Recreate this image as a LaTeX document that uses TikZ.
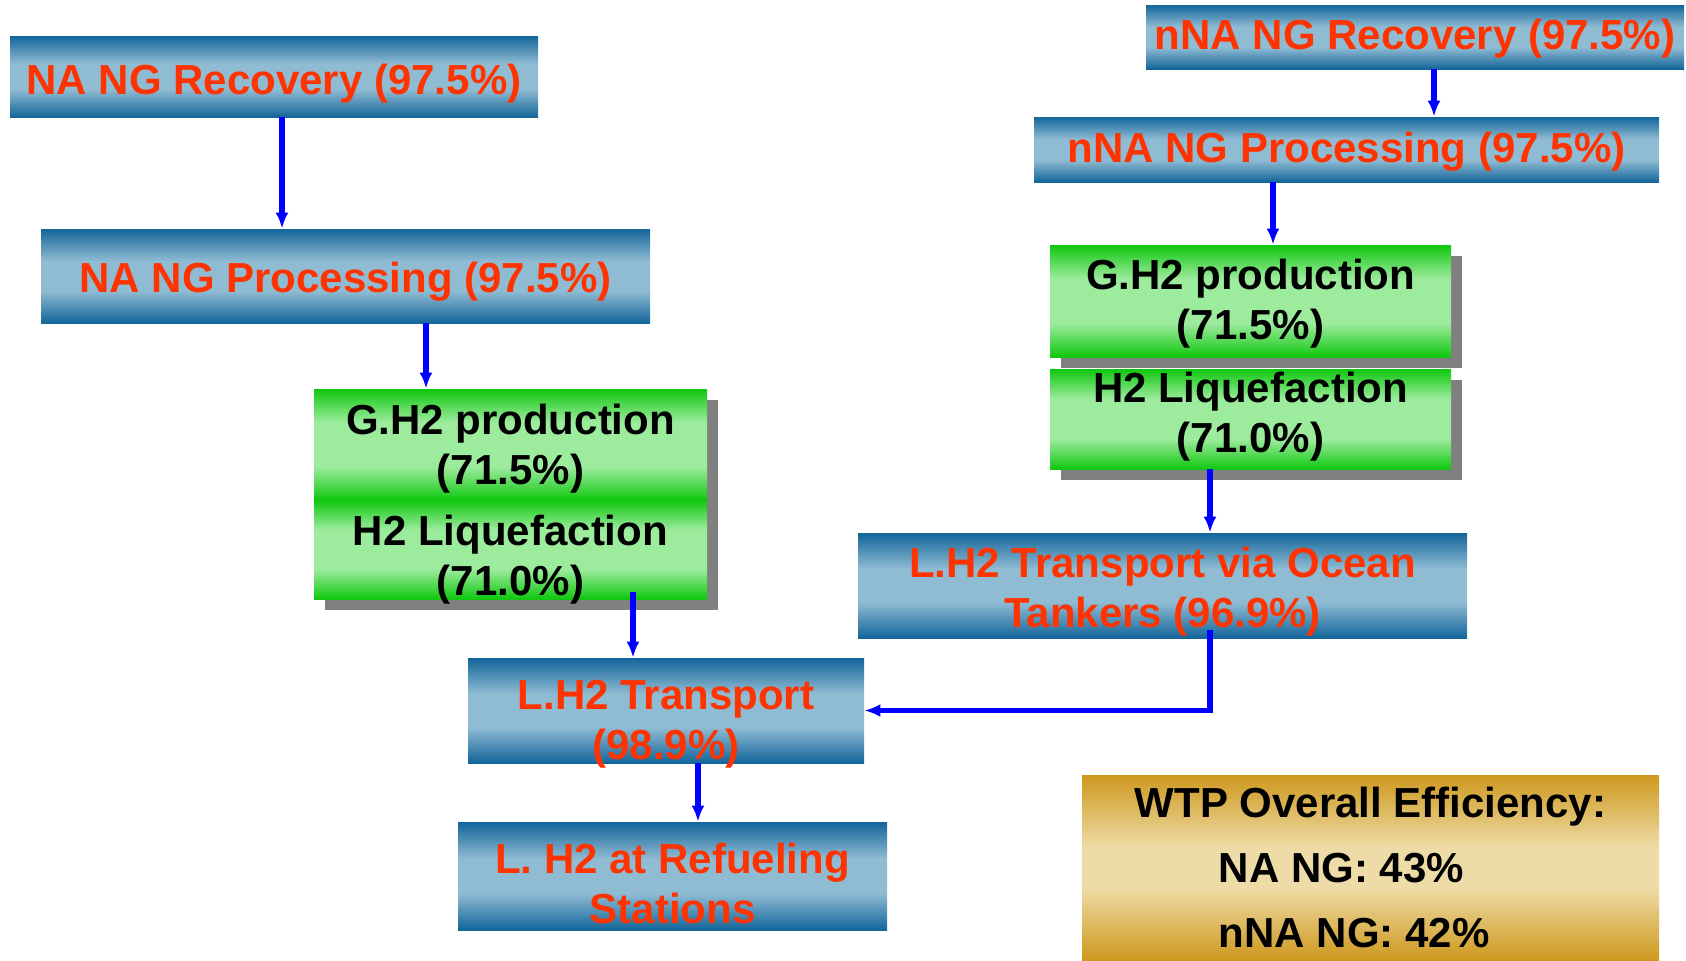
\documentclass[tikz,border=0pt]{standalone}
\usepackage{fontspec}
\setmainfont{Liberation Sans}
\usetikzlibrary{calc,shadows,arrows.meta}
\definecolor{bdark}{RGB}{19,101,154}
\definecolor{blight}{RGB}{143,187,211}
\definecolor{gdark}{RGB}{15,199,15}
\definecolor{glight}{RGB}{157,235,157}
\definecolor{odark}{RGB}{206,153,30}
\definecolor{olight}{RGB}{238,220,168}
\definecolor{txtred}{RGB}{255,51,0}
\definecolor{arblue}{RGB}{0,0,255}
\pgfdeclareverticalshading{bluebar}{100bp}{color(0bp)=(bdark); color(25bp)=(bdark); color(42bp)=(blight); color(58bp)=(blight); color(75bp)=(bdark); color(100bp)=(bdark)}
\pgfdeclareverticalshading{greenbar}{100bp}{color(0bp)=(gdark); color(25bp)=(gdark); color(40bp)=(glight); color(60bp)=(glight); color(75bp)=(gdark); color(100bp)=(gdark)}
\pgfdeclareverticalshading{goldbar}{100bp}{color(0bp)=(odark); color(25bp)=(odark); color(45bp)=(olight); color(55bp)=(olight); color(75bp)=(odark); color(100bp)=(odark)}
\tikzset{
    BL/.style ={rectangle, shading=bluebar, inner sep=0pt},
    GR/.style ={rectangle, shading=greenbar, inner sep=0pt,
        drop shadow={shadow xshift=5.5pt, shadow yshift=-5.5pt, fill=gray, opacity=1}},
    GO/.style ={rectangle, shading=goldbar, inner sep=0pt},
    TR/.style ={text=txtred, align=center, inner sep=0pt, font=\bfseries\fontsize{21}{25}\selectfont},
    TK/.style ={text=black, align=center, inner sep=0pt, font=\bfseries\fontsize{21}{25}\selectfont},
    AR/.style ={-{Latex[length=8pt,width=6.5pt]}, line width=2.6pt, draw=arblue}}

\begin{document}
\begin{tikzpicture}[x=0.5pt, y=-0.5pt]
        \useasboundingbox (0,0) rectangle (1686,960);
        \node[BL, minimum width=264pt, minimum height=40.5pt] (nrec) at (274,76.5) {};
        \node[TR] (nrect) at ($(nrec.center)+(0,7.5)$) {NA NG Recovery (97.5\%)};
        \node[BL, minimum width=304.5pt, minimum height=47pt] (nproc) at (345.5,276) {};
        \node[TR] (nproct) at ($(nproc.center)+(0,5.5)$) {NA NG Processing (97.5\%)};
        \node[GR, minimum width=196.5pt, minimum height=55.5pt] (lg1) at (510.5,444.5) {};
        \node[TK] (lg1t) at ($(lg1.center)+(0,4.5)$) {G.H2 production\\(71.5\%)};
        \node[GR, minimum width=196.5pt, minimum height=49.5pt] (lg2) at (510.5,549.5) {};
        \node[TK] (lg2t) at ($(lg2.center)+(0,10.5)$) {H2 Liquefaction\\(71.0\%)};
        \node[BL, minimum width=269pt, minimum height=32pt] (xrec) at (1415,37) {};
        \node[TR] (xrect) at ($(xrec.center)+(0,2)$) {nNA NG Recovery (97.5\%)};
        \node[BL, minimum width=312.5pt, minimum height=32.5pt] (xproc) at (1346.5,149.5) {};
        \node[TR] (xproct) at ($(xproc.center)+(0,2)$) {nNA NG Processing (97.5\%)};
        \node[GR, minimum width=200.5pt, minimum height=56pt] (rg1) at (1250.5,301) {};
        \node[TK] (rg1t) at ($(rg1.center)+(0,3)$) {G.H2 production\\(71.5\%)};
        \node[GR, minimum width=200.5pt, minimum height=50pt] (rg2) at (1250.5,419) {};
        \node[TK] (rg2t) at ($(rg2.center)+(0,-2)$) {H2 Liquefaction\\(71.0\%)};
        \node[BL, minimum width=304.5pt, minimum height=52.5pt] (ocean) at (1162.5,585.5) {};
        \node[TR] (oceant) at ($(ocean.center)+(0,6.5)$) {L.H2 Transport via Ocean\\Tankers (96.9\%)};
        \node[BL, minimum width=198pt, minimum height=52.5pt] (ltr) at (666,710.5) {};
        \node[TR] (ltrt) at ($(ltr.center)+(0,14)$) {L.H2 Transport\\(98.9\%)};
        \node[BL, minimum width=214.5pt, minimum height=54pt] (ref) at (672.5,876) {};
        \node[TR] (reft) at ($(ref.center)+(0,7.5)$) {L. H2 at Refueling\\Stations};
        \node[GO, minimum width=288.5pt, minimum height=92.5pt] (wtp) at (1370.5,867.5) {};
        \node[TK, align=left, font=\bfseries\fontsize{21}{32.5}\selectfont] (wtpt) at (wtp.center)
            {WTP Overall Efficiency:\\\hspace*{42pt}NA NG: 43\%\\\hspace*{42pt}nNA NG: 42\%};
        \draw[AR] ($(nrec.south)+(8,0)$) -- ($(nproc.north)+(-63.5,0)$);
        \draw[AR] ($(nproc.south)+(80.5,0)$) -- ($(lg1.north)+(-84.5,0)$);
        \draw[AR] ($(lg2.south)+(122.5,-7)$) -- ($(ltr.north)+(-33,0)$);
        \draw[AR] ($(ltr.south)+(32,0)$) -- ($(ref.north)+(25.5,0)$);
        \draw[AR] ($(xrec.south)+(19,0)$) -- ($(xproc.north)+(87.5,0)$);
        \draw[AR] ($(xproc.south)+(-73.5,0)$) -- ($(rg1.north)+(22.5,0)$);
        \draw[AR] ($(rg2.south)+(-40.5,0)$) -- ($(ocean.north)+(47.5,0)$);
        \draw[AR] ($(ocean.south)+(47.5,-8)$) |- (ltr.east);
\end{tikzpicture}
\end{document}
